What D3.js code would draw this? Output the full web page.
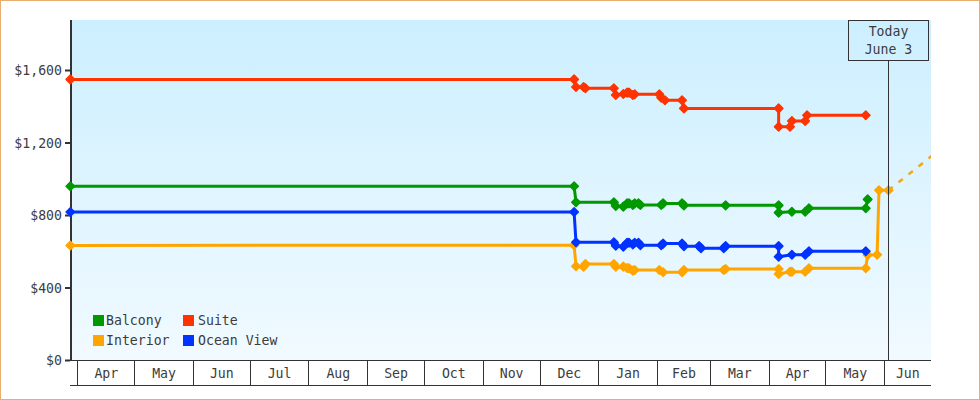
<!DOCTYPE html>
<html><head><meta charset="utf-8">
<script src="https://cdn.jsdelivr.net/npm/d3@7/dist/d3.min.js"></script>
<style>html,body{margin:0;padding:0;background:#fff}svg{display:block}text{font-family:"DejaVu Sans Mono",monospace;font-size:13.2px;fill:#3c3c3c}</style>
</head><body><svg id="c" width="980" height="400"></svg>
<script>
const monthTicks = ["2013-04-01","2013-05-01","2013-06-01","2013-07-01","2013-08-01","2013-09-01","2013-10-01","2013-11-01","2013-12-01","2014-01-01","2014-02-01","2014-03-01","2014-04-01","2014-05-01","2014-06-01"];
const monthLabels = ["Apr","May","Jun","Jul","Aug","Sep","Oct","Nov","Dec","Jan","Feb","Mar","Apr","May","Jun"];
const yTicks = [0,400,800,1200,1600];
const balconyDates = ["2013-03-28","2013-12-19","2013-12-20","2014-01-09","2014-01-10","2014-01-14","2014-01-16","2014-01-17","2014-01-19","2014-01-20","2014-01-22","2014-01-23","2014-02-03","2014-02-04","2014-02-14","2014-02-15","2014-03-09","2014-04-06","2014-04-06","2014-04-13","2014-04-20","2014-04-22","2014-05-22","2014-05-23"];
const balconyValues = [962,962,874,874,853,850,868,868,859,868,868,859,859,868,868,857,857,857,817,822,822,841,841,890];
const suiteDates = ["2013-03-28","2013-12-19","2013-12-20","2013-12-24","2013-12-25","2014-01-09","2014-01-10","2014-01-14","2014-01-16","2014-01-17","2014-01-19","2014-01-20","2014-02-02","2014-02-03","2014-02-05","2014-02-14","2014-02-15","2014-04-06","2014-04-06","2014-04-12","2014-04-13","2014-04-20","2014-04-21","2014-05-22"];
const suiteValues = [1552,1552,1510,1510,1503,1503,1466,1471,1479,1479,1466,1470,1470,1451,1437,1437,1392,1392,1291,1291,1322,1322,1354,1354];
const interiorDates = ["2013-03-28","2013-12-19","2013-12-20","2013-12-24","2013-12-25","2014-01-09","2014-01-10","2014-01-14","2014-01-16","2014-01-17","2014-01-19","2014-01-20","2014-02-02","2014-02-04","2014-02-14","2014-02-15","2014-03-08","2014-03-09","2014-04-06","2014-04-06","2014-04-12","2014-04-13","2014-04-20","2014-04-22","2014-05-22","2014-05-23","2014-05-28","2014-05-29","2014-06-03"];
const interiorValues = [636,637,521,519,533,533,519,519,511,510,497,500,500,488,488,500,500,506,506,478,491,491,491,510,510,583,585,940,940];
const oceanDates = ["2013-03-28","2013-12-19","2013-12-20","2014-01-09","2014-01-10","2014-01-14","2014-01-16","2014-01-17","2014-01-19","2014-01-20","2014-01-22","2014-01-23","2014-02-03","2014-02-04","2014-02-14","2014-02-15","2014-02-23","2014-02-24","2014-03-08","2014-03-09","2014-04-06","2014-04-06","2014-04-13","2014-04-20","2014-04-22","2014-05-22"];
const oceanValues = [820,820,653,653,634,629,651,651,641,651,651,637,637,646,646,632,632,621,621,632,632,574,585,585,604,604];
const projectionDates = ["2014-06-03","2014-07-01"];
const projectionValues = [940,1173];
const todayDate = "2014-06-03";
const todayLabels = ["Today","June 3"];

const parse = d3.utcParse("%Y-%m-%d");
const svg = d3.select("#c");
const L = 72, R = 931, T = 20, B = 360;
const x = d3.scaleUtc().domain([parse("2013-04-01"), parse("2014-06-01")]).range([77.9, 884.7]);
const y = d3.scaleLinear().domain([0,1600]).range([360.7,70.7]);
const ink = "#333";

svg.append("rect").attr("x",.5).attr("y",.5).attr("width",979).attr("height",399).attr("fill","#fff").attr("stroke","#e8ae6e");
const defs = svg.append("defs");
const g = defs.append("linearGradient").attr("id","bg").attr("x1",0).attr("x2",0).attr("y1",0).attr("y2",1);
g.append("stop").attr("offset",0).attr("stop-color","#ccefff");
g.append("stop").attr("offset",1).attr("stop-color","#f1faff");
defs.append("clipPath").attr("id","plot").append("rect").attr("x",L-8).attr("y",T).attr("width",R-L+8).attr("height",B-T);
svg.append("rect").attr("x",L).attr("y",T).attr("width",R-L).attr("height",B-T).attr("fill","url(#bg)");

// y axis
const yAxis = svg.append("g").attr("transform",`translate(70,0)`)
  .call(d3.axisLeft(y).tickValues(yTicks).tickSize(5).tickPadding(3).tickFormat(d => "$" + d3.format(",")(d)));
yAxis.select(".domain").remove();
yAxis.selectAll("line").attr("stroke",ink).attr("stroke-width",2).attr("transform","translate(0,-0.7)");
yAxis.selectAll("text").attr("dy","0.32em").attr("fill",null);
yAxis.attr("font-size",null).attr("font-family",null);
svg.append("line").attr("x1",71).attr("x2",71).attr("y1",T).attr("y2",B+1).attr("stroke",ink).attr("stroke-width",2);

// month strip
const hl = (yy) => svg.append("line").attr("x1",70).attr("x2",R).attr("y1",yy).attr("y2",yy).attr("stroke",ink).attr("stroke-width",1);
hl(360.5); hl(385.5);
const tickDates = monthTicks.map(parse);
svg.append("g").selectAll("line").data(tickDates).join("line")
  .attr("x1",d=>Math.floor(x(d))+.5).attr("x2",d=>Math.floor(x(d))+.5).attr("y1",360).attr("y2",385).attr("stroke",ink);
svg.append("g").selectAll("text").data(monthLabels).join("text")
  .attr("x",(d,i)=>{const a=x(tickDates[i]);const b=i+1<tickDates.length?x(tickDates[i+1]):R;return (a+b)/2;})
  .attr("y",378).attr("text-anchor","middle").text(d=>d);

// series
const series = [
 {name:"Balcony",color:"#009900",dates:balconyDates,values:balconyValues},
 {name:"Suite",color:"#ff3300",dates:suiteDates,values:suiteValues},
 {name:"Interior",color:"#ffa500",dates:interiorDates,values:interiorValues},
 {name:"Ocean View",color:"#0033ff",dates:oceanDates,values:oceanValues}
];
const line = d3.line().x(d=>x(d[0])).y(d=>y(d[1]));
const sym = d3.symbol().type(d3.symbolDiamond2).size(46);
const plot = svg.append("g").attr("clip-path","url(#plot)");

// today marker
const tx = Math.floor(x(parse(todayDate)))+.5;
svg.append("line").attr("x1",tx).attr("x2",tx).attr("y1",60).attr("y2",B).attr("stroke",ink);
svg.append("rect").attr("x",848.5).attr("y",20.5).attr("width",80).attr("height",40).attr("fill","none").attr("stroke",ink);
svg.append("g").selectAll("text").data(todayLabels).join("text")
  .attr("x",888.5).attr("y",(d,i)=>36+i*18).attr("text-anchor","middle").text(d=>d);

plot.append("path").datum(d3.zip(projectionDates.map(parse),projectionValues)).attr("d",line)
  .attr("fill","none").attr("stroke","#ffa500").attr("stroke-width",2.5).attr("stroke-dasharray","5.5 7.3");

series.forEach(s=>{
  const pts = d3.zip(s.dates.map(parse),s.values);
  const gg = plot.append("g");
  gg.append("path").datum(pts).attr("d",line).attr("fill","none").attr("stroke",s.color).attr("stroke-width",3).attr("stroke-linejoin","round");
  gg.selectAll("path.m").data(pts).join("path").attr("class","m").attr("d",sym)
    .attr("transform",d=>`translate(${x(d[0])},${y(d[1])})`).attr("fill",s.color).attr("stroke",s.color).attr("stroke-width",1.5).attr("stroke-linejoin","round");
});

// legend
const legendPos = [[93,315,106],[183,315,198],[93,335,106],[183,335,198]];
series.forEach((s,i)=>{
  const [sx,sy,tx2]=legendPos[i];
  svg.append("rect").attr("x",sx).attr("y",sy).attr("width",11).attr("height",11).attr("fill",s.color);
  svg.append("text").attr("x",tx2).attr("y",sy+10).text(s.name);
});
</script></body></html>
